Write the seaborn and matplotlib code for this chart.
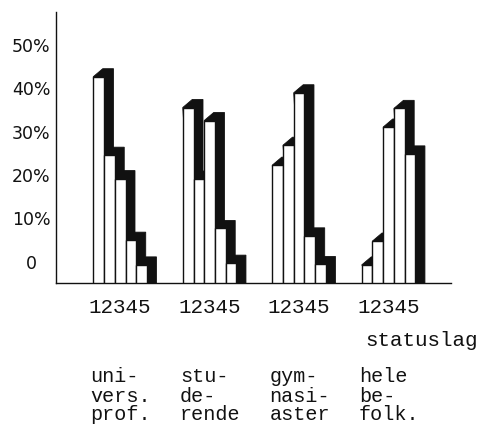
import numpy as np
import pandas as pd
import matplotlib
matplotlib.use("Agg")
import matplotlib.pyplot as plt
from matplotlib.patches import Polygon
from matplotlib.transforms import blended_transform_factory
import seaborn as sns

# ── data (percent per status group 1-5, read at the middle of each box top) ──
groups      = ["univers. prof.", "studerende", "gymnasiaster", "hele befolk."]
group_lines = [["uni-", "vers.", "prof."],
               ["stu-", "de-", "rende"],
               ["gym-", "nasi-", "aster"],
               ["hele", "be-", "folk."]]
status      = ["1", "2", "3", "4", "5"]
univ        = [43.6, 25.5, 20.1, 5.9, 0.2]
stud        = [36.5, 20.0, 33.5, 8.6, 0.6]
gymn        = [23.2, 27.8, 39.9, 6.9, 0.3]
hele        = [0.2, 5.7, 32.0, 36.3, 25.8]
ytick_vals  = [0, 10, 20, 30, 40, 50]
ytick_text  = ["0", "10%", "20%", "30%", "40%", "50%"]

# ── style / layout ──
W, H    = 483, 425
BASE    = -4.9      # baseline of the drawing sits below the "0" label
DY      = 1.85      # depth of the 3D box, in percent
DX      = 0.106     # depth of the 3D box, in category units
MONO    = "Liberation Mono"
INK     = "#111111"

rows = []
for g, vals in zip(groups, [univ, stud, gymn, hele]):
    for s, v in zip(status, vals):
        rows.append({"group": g, "status": s, "value": v})
df = pd.DataFrame(rows)
df["front"] = df["value"] - DY / 2 - BASE

sns.set_style("white")
plt.rcParams["font.family"] = ["DejaVu Sans"]

fig = plt.figure(figsize=(W / 100, H / 100), dpi=100)
ax = fig.add_axes([55.7 / W, 1 - 283 / H, (450.7 - 55.7) / W, (283 - 12) / H])

sns.barplot(data=df, x="group", y="front", hue="status", order=groups,
            hue_order=status, palette=["white"] * 5, width=0.6, dodge=True,
            errorbar=None, legend=False, saturation=1, ax=ax,
            bottom=BASE, edgecolor=INK, linewidth=1.0, zorder=3)

# black depth faces behind each white front
for p in list(ax.patches):
    x0, w = p.get_x(), p.get_width()
    top = p.get_y() + p.get_height()
    poly = Polygon([(x0, top), (x0 + DX, top + DY), (x0 + w + DX, top + DY),
                    (x0 + w + DX, BASE), (x0 + w, BASE)],
                   closed=True, facecolor=INK, edgecolor=INK,
                   linewidth=0.6, zorder=2)
    ax.add_patch(poly)

ax.set_xlim(-0.72, 3.694)
ax.set_ylim(BASE, 57.6)

for side in ["top", "right"]:
    ax.spines[side].set_visible(False)
for side in ["left", "bottom"]:
    ax.spines[side].set_color(INK)
    ax.spines[side].set_linewidth(1.0)

ax.set_yticks(ytick_vals)
ax.set_yticklabels(ytick_text, fontsize=12.5, color=INK, ha="center")
ax.tick_params(axis="y", length=0, pad=17.8)

ax.set_xticks(range(len(groups)))
ax.set_xticklabels(["".join(status)] * len(groups), family=MONO,
                   fontsize=15, color=INK)
ax.tick_params(axis="x", length=0, pad=11)
ax.set_xlabel(""); ax.set_ylabel("")

fig.text(365 / W, 1 - 340 / H, "statuslag", family=MONO, fontsize=15,
         color=INK, ha="left", va="center")

tr = blended_transform_factory(ax.transData, fig.transFigure)
line_y = [381.5, 402.5, 420.5]   # baselines in pixels from the top
for i, lines in enumerate(group_lines):
    for txt, yy in zip(lines, line_y):
        fig.text(i - 0.33, 1 - yy / H, txt, transform=tr, family=MONO,
                 fontsize=14.5, color=INK, ha="left", va="baseline")

fig.savefig("out.png", dpi=100)
